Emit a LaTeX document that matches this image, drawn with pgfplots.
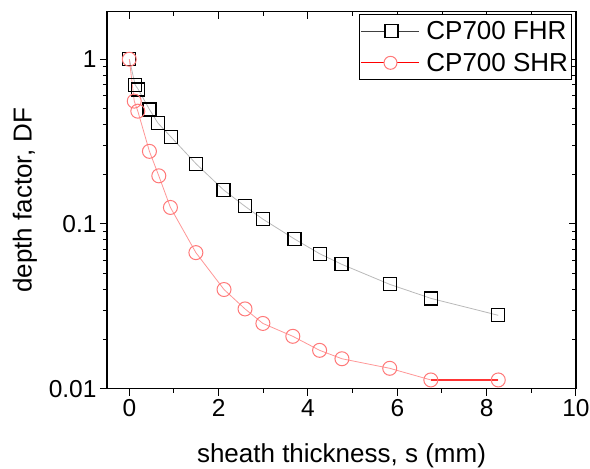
\documentclass[border=0pt]{standalone}
\usepackage{fontspec}
\setmainfont{Liberation Sans}
\usepackage{pgfplots}
\pgfplotsset{compat=1.18}
\definecolor{shrpink}{RGB}{255,120,120}
\definecolor{shrline}{RGB}{255,150,150}
\begin{document}
\begin{tikzpicture}
% mirrored ticks on top and right point inwards
\begin{axis}[
  scale only axis, width=469pt, height=377pt,
  xmin=-0.5, xmax=10, ymode=log, ymin=0.01, ymax=1.944,
  xtick={0,2,4,6,8,10}, minor xtick={1,3,5,7,9},
  ytick={0.01,0.1,1},
  minor ytick={0.02,0.03,0.04,0.05,0.06,0.07,0.08,0.09,0.2,0.3,0.4,0.5,0.6,0.7,0.8,0.9},
  axis line style={line width=1.2pt, black},
  every tick/.style={black, line width=1pt},
  major tick length=7pt, minor tick length=4pt,
  xtick pos=right, ytick pos=right, tick align=inside,
  xticklabels={}, yticklabels={}]
\end{axis}
\begin{axis}[
  scale only axis, width=469pt, height=377pt,
  xmin=-0.5, xmax=10, ymode=log, ymin=0.01, ymax=1.944,
  xtick={0,2,4,6,8,10}, minor xtick={1,3,5,7,9},
  ytick={0.01,0.1,1},
  minor ytick={0.02,0.03,0.04,0.05,0.06,0.07,0.08,0.09,0.2,0.3,0.4,0.5,0.6,0.7,0.8,0.9},
  axis line style={line width=1.2pt, black},
  every tick/.style={black, line width=1pt},
  major tick length=7pt, minor tick length=4pt,
  name=main, xtick pos=left, ytick pos=left, tick align=outside,
  yticklabels={0.01,0.1,1},
  /pgf/number format/assume math mode=true,
  tick label style={font=\fontsize{24.5}{28}\selectfont},
  xlabel={sheath thickness, s (mm)},
  ylabel={depth factor, DF},
  label style={font=\fontsize{26}{30}\selectfont},
  xlabel style={at={(axis description cs:0.5,-0.196)}, anchor=base},
  ylabel style={at={(axis description cs:-0.149,0.5)}, anchor=south, inner sep=0pt},
  legend style={at={(axis description cs:0.9915,0.993)}, anchor=north east,
    draw=black, line width=1pt, fill=white, font=\fontsize{26}{30}\selectfont,
    inner xsep=1pt, inner ysep=4pt, row sep=7pt, nodes={inner sep=2.5pt}},
  legend cell align=left,
]
\addplot[gray!55, line width=0.8pt, mark=square, mark size=6.5pt,
  mark options={black, line width=1.2pt, fill=white, solid},
  legend image code/.code={
    \draw[black!75, line width=1pt] (0pt,0pt) -- (58pt,0pt);
    \draw[black, line width=1.2pt, fill=white] (23.5pt,-6.5pt) rectangle (36.5pt,6.5pt);
    \path (62pt,0pt);
  }] coordinates {
  (0,1) (0.13,0.70) (0.20,0.656) (0.45,0.496) (0.64,0.41) (0.93,0.338)
  (1.50,0.231) (2.11,0.161) (2.59,0.128) (2.99,0.107) (3.70,0.081)
  (4.26,0.066) (4.75,0.057) (5.83,0.043) (6.76,0.0353) (8.26,0.0279)
};
\addlegendentry{CP700 FHR}
\addplot[red, line width=1.3pt, forget plot] coordinates {(6.75,0.0113) (8.26,0.0113)};
\addplot[shrline, line width=0.8pt, mark=o, mark size=7pt,
  mark options={shrpink, line width=1pt, fill=white, solid},
  legend image code/.code={
    \draw[red, line width=1pt] (0pt,0pt) -- (58pt,0pt);
    \draw[shrpink, line width=1pt, fill=white] (29pt,0pt) circle (6.5pt);
    \path (62pt,0pt);
  }] coordinates {
  (0,1) (0.11,0.557) (0.19,0.484) (0.45,0.276) (0.66,0.196) (0.92,0.126)
  (1.49,0.067) (2.12,0.040) (2.59,0.0305) (2.99,0.0249) (3.66,0.0208)
  (4.26,0.0171) (4.76,0.0152) (5.83,0.0133) (6.75,0.0113) (8.26,0.0113)
};
\addlegendentry{CP700 SHR}
\end{axis}
\pgfresetboundingbox
\useasboundingbox ([shift={(-107pt,-80pt)}]main.south west) rectangle ([shift={(14pt,11.7pt)}]main.north east);
\end{tikzpicture}
\end{document}
